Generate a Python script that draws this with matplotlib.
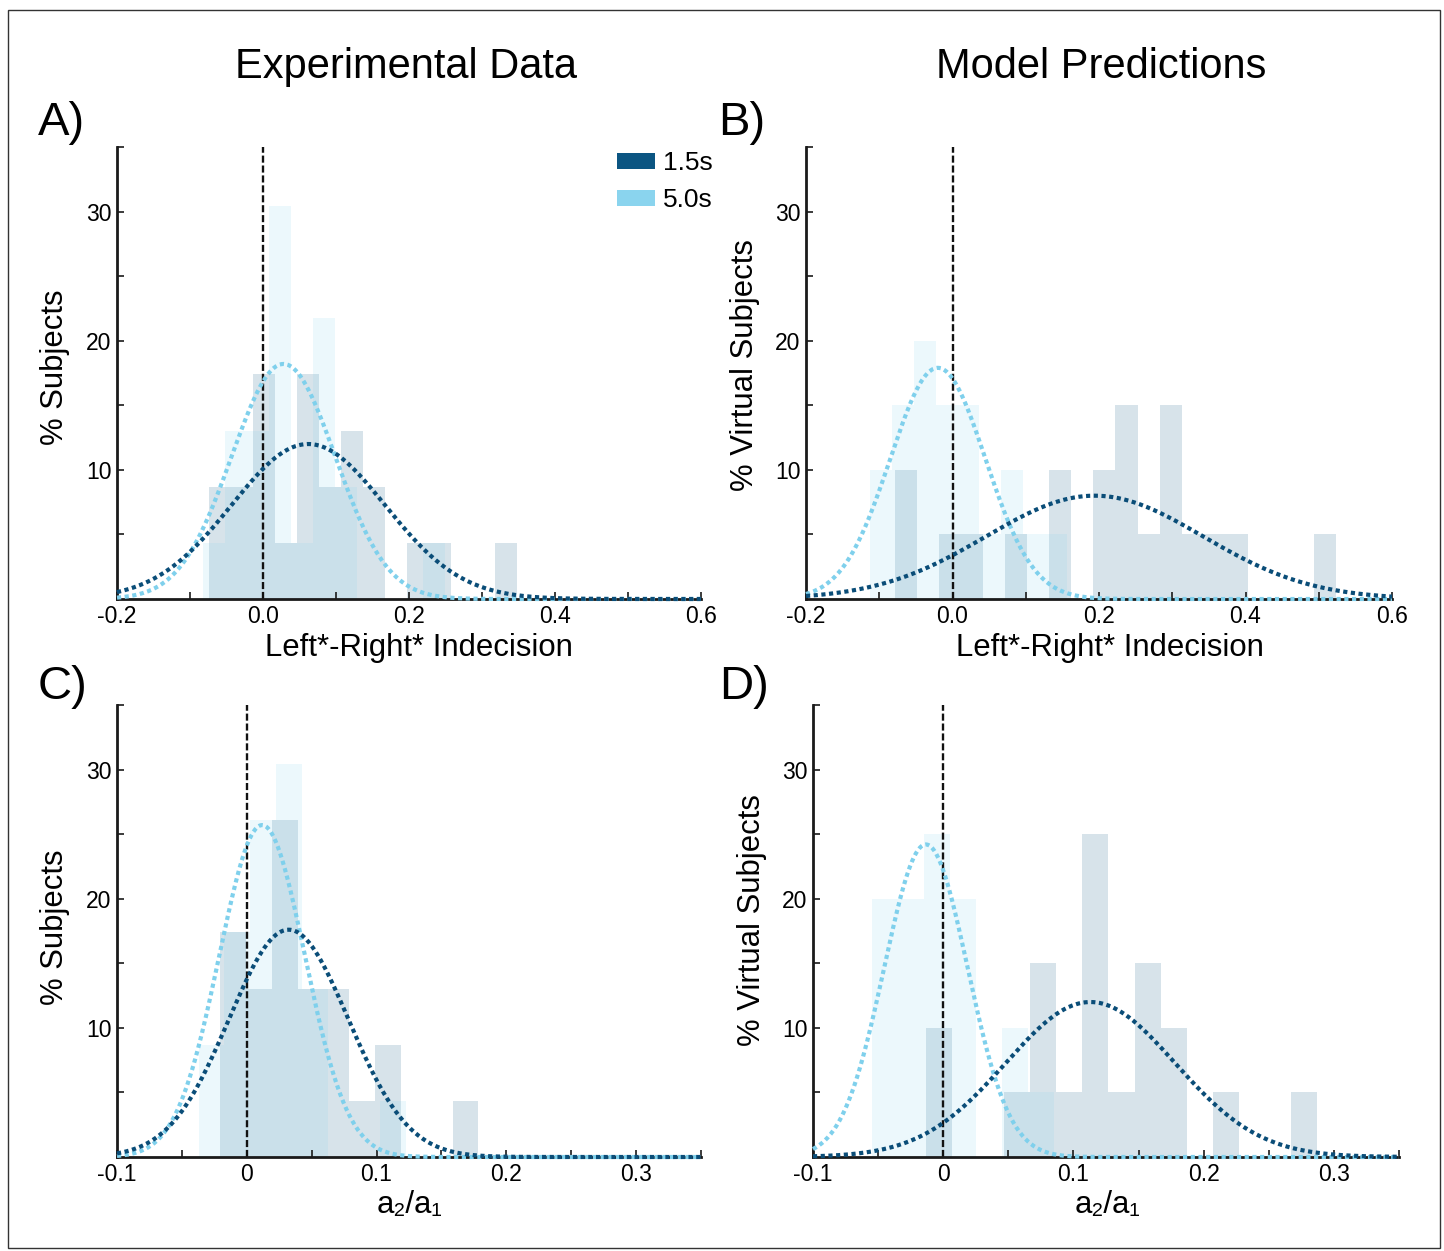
import numpy as np
import matplotlib
matplotlib.use("Agg")
import matplotlib.pyplot as plt
from matplotlib.patches import Patch, Rectangle

plt.rcParams['font.family'] = ['Liberation Sans', 'DejaVu Sans']

# ---------------- data ----------------
series_labels = ["1.5s", "5.0s"]
n_exp = 23      # experimental subjects
n_model = 20    # virtual subjects

# Panel A: Left*-Right* indecision, experimental
a15_start, a15_width = -0.0741, 0.0301
a15_counts = [2, 2, 4, 1, 4, 2, 3, 2, 0, 1, 1, 0, 0, 1]
a50_start, a50_width = -0.0824, 0.0302
a50_counts = [1, 3, 3, 7, 1, 5, 2, 0, 0, 0, 1]
a15_fit = (0.062, 0.105, 12.0)   # mean, sd, peak (%)
a50_fit = (0.028, 0.071, 18.2)

# Panel B: Left*-Right* indecision, model
b15_start, b15_width = -0.0785, 0.0301
b15_counts = [2, 0, 1, 1, 0, 1, 0, 2, 0, 2, 3, 1, 3, 1, 1, 1, 0, 0, 0, 1]
b50_start, b50_width = -0.1128, 0.0299
b50_counts = [2, 3, 4, 3, 3, 1, 2, 1, 1]
b15_fit = (0.194, 0.148, 8.0)
b50_fit = (-0.020, 0.065, 17.9)

# Panel C: a2/a1, experimental
c15_start, c15_width = -0.0205, 0.0199
c15_counts = [4, 3, 6, 3, 3, 1, 2, 0, 0, 1]
c50_start, c50_width = -0.0372, 0.0200
c50_counts = [2, 4, 6, 7, 3, 0, 0, 1]
c15_fit = (0.0323, 0.046, 17.6)
c50_fit = (0.0118, 0.033, 25.7)

# Panel D: a2/a1, model
d15_start, d15_width = -0.0131, 0.0200
d15_counts = [2, 0, 0, 1, 3, 1, 5, 1, 3, 2, 0, 1, 0, 0, 1]
d50_start, d50_width = -0.0546, 0.0200
d50_counts = [4, 4, 5, 4, 0, 2, 1]
d15_fit = (0.113, 0.065, 12.0)
d50_fit = (-0.0133, 0.032, 24.2)

xticks_ab = [-0.2, 0.0, 0.2, 0.4, 0.6]
xticklabels_ab = ["-0.2", "0.0", "0.2", "0.4", "0.6"]
xticks_cd = [-0.1, 0.0, 0.1, 0.2, 0.3]
xticklabels_cd = ["-0.1", "0", "0.1", "0.2", "0.3"]
yticks = [10, 20, 30]

# ---------------- style ----------------
W, H = 1444, 1251
C_DARK = "#0b5582"
C_LIGHT = "#8ad4ee"
CURVE_DARK = "#0a4d78"
CURVE_LIGHT = "#7fd0ec"
BAR_ALPHA = 0.16

fig = plt.figure(figsize=(W / 100, H / 100), dpi=100)


def add_axes_px(l, r, t, b):
    return fig.add_axes([l / W, 1 - b / H, (r - l) / W, (b - t) / H])


def draw_panel(ax, hists, fits, N, xlim, major, majlabels, minor_step):
    for (start, width, counts), color in zip(hists, [C_DARK, C_LIGHT]):
        counts = np.asarray(counts, float)
        edges = start + width * np.arange(len(counts))
        ax.bar(edges, counts / N * 100, width=width, align='edge',
               color=color, alpha=BAR_ALPHA, linewidth=0, zorder=1)
    ax.axvline(0, color="#111111", lw=1.7, ls=(0, (3, 1.2)), zorder=2)
    xs = np.linspace(xlim[0], xlim[1], 600)
    for (mu, sd, pk), color in zip(fits[::-1], [CURVE_LIGHT, CURVE_DARK]):
        ax.plot(xs, pk * np.exp(-0.5 * ((xs - mu) / sd) ** 2), color=color,
                lw=3.0, ls=(0, (1, 0.85)), zorder=4, clip_on=False)
    ax.set_xlim(*xlim)
    ax.set_ylim(0, 35)
    ax.spines[['top', 'right']].set_visible(False)
    for s in ['left', 'bottom']:
        ax.spines[s].set_linewidth(2.0)
        ax.spines[s].set_color('#1a1a1a')
        ax.spines[s].set_zorder(3)
    ax.set_xticks(major)
    ax.set_xticklabels(majlabels)
    ax.set_xticks(np.arange(xlim[0], xlim[1] + 1e-9, minor_step), minor=True)
    ax.set_yticks(yticks)
    ax.set_yticks([5, 15, 25, 35], minor=True)
    ax.tick_params(which='both', direction='in', length=5, width=1.2,
                   labelsize=16.5, pad=4, color='#1a1a1a')


axA = add_axes_px(117, 701, 147, 599)
axB = add_axes_px(806, 1392, 147, 599)
axC = add_axes_px(117, 701, 705, 1157)
axD = add_axes_px(813, 1399, 705, 1157)

draw_panel(axA, [(a15_start, a15_width, a15_counts), (a50_start, a50_width, a50_counts)],
           [a15_fit, a50_fit], n_exp, (-0.2, 0.6), xticks_ab, xticklabels_ab, 0.1)
draw_panel(axB, [(b15_start, b15_width, b15_counts), (b50_start, b50_width, b50_counts)],
           [b15_fit, b50_fit], n_model, (-0.2, 0.6), xticks_ab, xticklabels_ab, 0.1)
draw_panel(axC, [(c15_start, c15_width, c15_counts), (c50_start, c50_width, c50_counts)],
           [c15_fit, c50_fit], n_exp, (-0.1, 0.35), xticks_cd, xticklabels_cd, 0.05)
draw_panel(axD, [(d15_start, d15_width, d15_counts), (d50_start, d50_width, d50_counts)],
           [d15_fit, d50_fit], n_model, (-0.1, 0.35), xticks_cd, xticklabels_cd, 0.05)

# legend
handles = [Patch(facecolor=C_DARK, edgecolor='none'), Patch(facecolor=C_LIGHT, edgecolor='none')]
fig.legend(handles, series_labels, loc='upper right', bbox_to_anchor=(713 / W, 1 - 151 / H),
           frameon=False, fontsize=19, handlelength=1.45, handleheight=0.55,
           handletextpad=0.3, labelspacing=0.5, borderpad=0, borderaxespad=0)


def ftext(x, y, s, **kw):
    fig.text(x / W, 1 - y / H, s, **kw)


ftext(406, 67, "Experimental Data", fontsize=30, ha='center', va='center')
ftext(1101, 67, "Model Predictions", fontsize=30, ha='center', va='center')
for x, y, s in [(38, 123, "A)"), (718, 123, "B)"), (38, 687, "C)"), (719, 687, "D)")]:
    ftext(x, y, s, fontsize=34, ha='left', va='center')

ftext(419, 648, "Left*-Right* Indecision", fontsize=22.4, ha='center', va='center')
ftext(1110, 648, "Left*-Right* Indecision", fontsize=22.4, ha='center', va='center')
ftext(410, 1205, "a\u2082/a\u2081", fontsize=22.4, ha='center', va='center')
ftext(1107, 1205, "a\u2082/a\u2081", fontsize=22.4, ha='center', va='center')

ftext(55, 367, "% Subjects", fontsize=22.3, rotation=90, ha='center', va='center')
ftext(745, 365, "% Virtual Subjects", fontsize=22.3, rotation=90, ha='center', va='center')
ftext(55, 927, "% Subjects", fontsize=22.3, rotation=90, ha='center', va='center')
ftext(752, 920, "% Virtual Subjects", fontsize=22.3, rotation=90, ha='center', va='center')

# figure border
fig.add_artist(Rectangle((8 / W, 1 - 1248 / H), (1440 - 8) / W, (1248 - 10) / H,
                         transform=fig.transFigure, fill=False, lw=1.0, edgecolor='#333333'))

fig.savefig("out.png", dpi=100)
